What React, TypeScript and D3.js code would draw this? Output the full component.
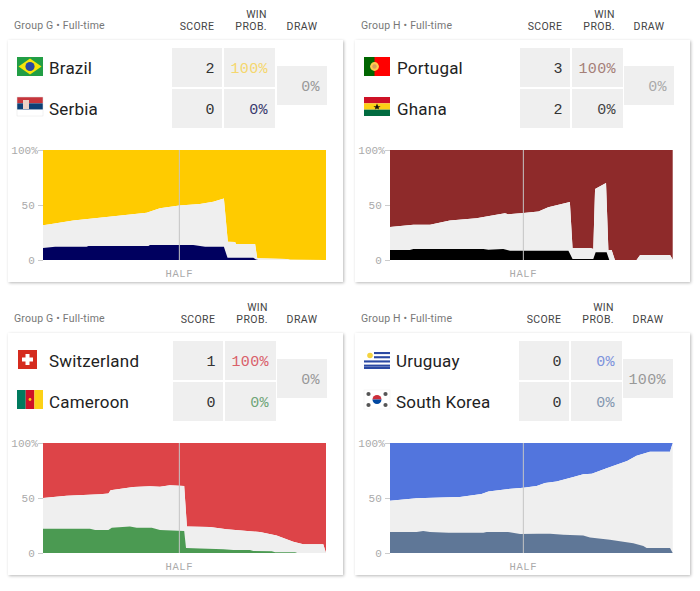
import * as d3 from "d3";
import React, { useEffect, useRef } from "react";

const MONO = "'Liberation Mono', 'DejaVu Sans Mono', monospace";
const SANS = "Roboto, Inter, sans-serif";

// win probability: minute / percent
const brazilMinutes = [0, 2.3, 10, 21, 34.2, 38.6, 45, 51.8, 56.2, 59.7, 61, 63.4, 63.7, 70, 70.7, 80.4, 81.5, 93.4];
const brazilLine = [31.5, 32.5, 36, 39, 43, 47, 49.5, 51, 53, 56, 16.7, 16.4, 14.5, 14.5, 1.5, 1, 0.3, 0];
const serbiaMinutes = [0, 4, 14.4, 15, 34.8, 35.3, 49.6, 53.5, 59.7, 60.9, 69.4, 70.3, 71, 93.4];
const serbiaLine = [11, 12, 12, 12.7, 12.7, 13.6, 13.6, 12, 12, 2, 2, 0.5, 0, 0];

const portugalMinutes = [0, 7.9, 13.5, 20.2, 29.2, 34.9, 38.8, 39.9, 45, 50.1, 53.4, 60.7, 61.6, 67.7, 68.6, 69.2, 72.9, 73.7, 74.8, 75.9, 83.2, 84.4, 94.5, 95.4];
const portugalLine = [30, 32, 32, 36, 38, 40.6, 42.4, 41.5, 42.7, 44, 48, 52.7, 11, 11, 10, 64.5, 70, 9, 9, 0, 0, 4.5, 4.5, 0.5];
const ghanaMinutes = [0, 6.7, 7.9, 31.5, 33.2, 38.2, 40.5, 60.2, 61.6, 68.6, 69.4, 73.1, 74, 95.5];
const ghanaLine = [9, 9, 10, 10, 9.4, 10, 8.5, 8.5, 1, 1, 7, 7, 0, 0];

const swissMinutes = [0, 7.8, 18.8, 21.6, 22.3, 29.8, 35.3, 38.6, 41.9, 46.6, 47.5, 55.1, 60.6, 71.6, 77.1, 82.6, 85.9, 92.5, 93.4];
const swissLine = [50, 52, 53.5, 54, 57, 60, 60.6, 60.3, 61.5, 61, 24, 23.6, 21.5, 19, 16, 10.3, 8, 8, 0];
const cameroonMinutes = [0, 15.5, 17.2, 21.6, 22.7, 28.7, 30.9, 35.9, 38.6, 46.6, 47.2, 51.8, 59.5, 62.8, 68.3, 69.4, 75.5, 76.6, 83.2, 83.9, 93.4];
const cameroonLine = [22, 22, 21, 21, 23, 24, 23, 23, 21, 20, 4.5, 4, 3.3, 2.7, 2.7, 1.8, 1.5, 0.6, 0.6, 0, 0];

const uruguayMinutes = [0, 9, 20.2, 23.6, 30.9, 33.2, 39.4, 45, 49.5, 52.3, 56.2, 61.9, 65.2, 68.1, 73.1, 80, 83.2, 87.7, 89.4, 94.5, 95.4];
const uruguayLine = [47.6, 49.7, 50.6, 51, 53.6, 56, 58, 59.4, 61, 63.6, 65, 69, 71.5, 72, 77, 83.6, 88.5, 92, 92, 92, 100];
const koreaMinutes = [0, 9, 11.2, 13.5, 19.7, 31.5, 32.6, 39.9, 43.9, 50.1, 54, 58.5, 65.2, 67.5, 74.2, 82.1, 85.5, 86.6, 94.5, 95.4];
const koreaLine = [19, 19, 20, 19, 18.5, 18.5, 19, 19, 17.3, 17.6, 17.6, 16.7, 16, 14, 12, 8.8, 6.4, 4.5, 4.5, 0];

const yTicks = [0, 50, 100];

const Flag = ({ name, x, y }: { name: string; x: number; y: number }) => {
  const w = 26;
  const h = 19;
  const bands = (colors: string[]) =>
    colors.map((c, i) => <rect key={i} x={0} y={(i * h) / colors.length} width={w} height={h / colors.length} fill={c} />);
  let inner: React.ReactNode = null;
  if (name === "Brazil") {
    inner = (
      <>
        <rect width={w} height={h} fill="#229e45" />
        <polygon points="1.5,9.5 13,1.5 24.5,9.5 13,17.5" fill="#f8e509" />
        <circle cx={13} cy={9.5} r={4.6} fill="#2b49a3" />
      </>
    );
  } else if (name === "Serbia") {
    inner = (
      <>
        {bands(["#c6363c", "#0c4076", "#ffffff"])}
        <rect x={6} y={3} width={6} height={9} fill="#ead2c6" />
        <rect width={w} height={h} fill="none" stroke="#e4e4e4" strokeWidth={0.5} />
      </>
    );
  } else if (name === "Portugal") {
    inner = (
      <>
        <rect width={w} height={h} fill="#ff0000" />
        <rect width={10.5} height={h} fill="#006600" />
        <circle cx={10.5} cy={9.5} r={4.4} fill="#ffcc4d" />
        <circle cx={10.5} cy={9.5} r={2.2} fill="#d9a05b" />
      </>
    );
  } else if (name === "Ghana") {
    inner = (
      <>
        {bands(["#ce1126", "#fcd116", "#006b3f"])}
        <polygon points="13,6.4 14.1,9.2 16.6,9.2 14.4,10.8 15.2,12.6 13,11.4 10.8,12.6 11.6,10.8 9.4,9.2 11.9,9.2" fill="#111" />
      </>
    );
  } else if (name === "Switzerland") {
    inner = (
      <>
        <rect x={1} width={19} height={h} fill="#d52b1e" />
        <rect x={8.5} y={4} width={4} height={11} fill="#fff" />
        <rect x={5} y={7.5} width={11} height={4} fill="#fff" />
      </>
    );
  } else if (name === "Cameroon") {
    inner = (
      <>
        <rect width={8.7} height={h} fill="#007a5e" />
        <rect x={8.7} width={8.7} height={h} fill="#ce1126" />
        <rect x={17.4} width={8.6} height={h} fill="#fcd116" />
        <circle cx={13} cy={9.5} r={1.4} fill="#fcd116" />
      </>
    );
  } else if (name === "Uruguay") {
    inner = (
      <>
        <rect width={w} height={h} fill="#fff" />
        {[2, 6.2, 10.4, 14.6].map((by) => (
          <rect key={by} x={by < 10 ? 10 : 0} y={by} width={by < 10 ? 16 : 26} height={2.1} fill="#2b49a3" />
        ))}
        <rect y={16.9} width={w} height={2.1} fill="#2b49a3" />
        <circle cx={6} cy={5.5} r={2.8} fill="#f4d33f" />
      </>
    );
  } else {
    inner = (
      <>
        <rect width={w} height={h} fill="#fff" stroke="#eee" strokeWidth={0.5} />
        <path d="M8.5,9.5 A4.5,4.5 0 0 1 17.5,9.5 Z" fill="#cd2e3a" />
        <path d="M8.5,9.5 A4.5,4.5 0 0 0 17.5,9.5 Z" fill="#0047a0" />
        {[[4.5, 4], [21.5, 4], [4.5, 15], [21.5, 15]].map(([cx, cy]) => (
          <circle key={`${cx}-${cy}`} cx={cx} cy={cy} r={2.1} fill="#555" />
        ))}
      </>
    );
  }
  return <g transform={`translate(${x},${y})`}>{inner}</g>;
};

interface GameProps {
  top: number;
  group: string;
  teams: [string, string];
  nameX: number;
  flagX: [number, number];
  cellX: [number, number, number];
  scores: [number, number];
  probs: [string, string];
  draw: string;
  probColors: [string, string];
  drawColor: string;
  colors: [string, string];
  duration: number;
  lineMinutes: number[];
  line: number[];
  lowMinutes: number[];
  low: number[];
  chartX: number;
  headX: number;
  cardX: number;
}

const Game: React.FC<GameProps> = (p) => {
  const chartRef = useRef<SVGGElement>(null);
  const chartW = 283;
  const chartH = 110;

  useEffect(() => {
    const g = d3.select(chartRef.current);
    g.selectAll("*").remove();

    const x = d3.scaleLinear().domain([0, p.duration]).range([0, chartW]);
    const y = d3.scaleLinear().domain([0, 100]).range([chartH, 0]);

    const pairs = p.lineMinutes.map((m, i) => [m, p.line[i]]);
    const lowPairs = p.lowMinutes.map((m, i) => [m, p.low[i]]);

    const area = (base: number) =>
      d3
        .area<number[]>()
        .x((d) => x(d[0]))
        .y0(y(base))
        .y1((d) => y(d[1]));

    g.append("path").datum(pairs).attr("d", area(100)).attr("fill", p.colors[0]);
    g.append("path").datum(pairs).attr("d", area(0)).attr("fill", "#efefef");
    g.append("path").datum(lowPairs).attr("d", area(0)).attr("fill", p.colors[1]);

    g.append("line")
      .attr("x1", x(45))
      .attr("x2", x(45))
      .attr("y1", 0)
      .attr("y2", chartH)
      .attr("stroke", "#c4c4c4")
      .attr("stroke-width", 1);

    const axis = g.append("g").call(
      d3
        .axisLeft(y)
        .tickValues(yTicks)
        .tickSize(5)
        .tickPadding(0)
        .tickFormat((d) => (d === 100 ? "100%" : String(d))),
    );
    axis.select(".domain").remove();
    axis.selectAll("line").attr("stroke", "#ccc");
    axis
      .selectAll("text")
      .attr("fill", "#aaa")
      .attr("font-family", MONO)
      .attr("font-size", 11)
      .attr("letter-spacing", 0.1);
    // the 0 and 50 labels sit a little clear of their tick, 100% runs into it
    axis
      .selectAll("text")
      .filter((d) => d !== 100)
      .attr("dx", -3);

    g.append("text")
      .attr("x", x(45))
      .attr("y", chartH + 17)
      .attr("text-anchor", "middle")
      .attr("fill", "#aaa")
      .attr("font-family", MONO)
      .attr("font-size", 10.5)
      .attr("letter-spacing", 0.6)
      .text("HALF");
  }, [p]);

  const hdr = { fontFamily: SANS, fontSize: 10.5, fill: "#444", letterSpacing: 0.4 };
  const num = { fontFamily: MONO, fontSize: 15, textAnchor: "end" as const, letterSpacing: 0.4 };
  const [sx, wx, dx] = p.cellX;

  return (
    <g transform={`translate(0,${p.top})`}>
      <text x={p.headX} y={29} fontFamily={SANS} fontSize={10.5} fill="#777" letterSpacing={0.2}>
        {p.group}
      </text>
      <text x={sx + 25} y={30} textAnchor="middle" {...hdr}>SCORE</text>
      <text x={wx + 43} y={18} textAnchor="end" {...hdr}>WIN</text>
      <text x={wx + 43} y={30} textAnchor="end" {...hdr}>PROB.</text>
      <text x={dx + 25} y={30} textAnchor="middle" {...hdr}>DRAW</text>

      <rect x={p.cardX} y={40} width={335} height={242} fill="#fff" filter="url(#cardShadow)" />

      {p.teams.map((t, i) => (
        <g key={t}>
          <Flag name={t} x={p.flagX[i]} y={57 + i * 40} />
          <text x={p.nameX} y={74 + i * 41} fontFamily={SANS} fontSize={17} fill="#222" letterSpacing={0.2}>
            {t}
          </text>
          <rect x={sx} y={48 + i * 41} width={50} height={39} fill="#efefef" />
          <rect x={wx} y={48 + i * 41} width={51} height={39} fill="#efefef" />
          <text x={sx + 43} y={73 + i * 41} {...num} fill="#333">
            {p.scores[i]}
          </text>
          <text x={wx + 44} y={73 + i * 41} {...num} fill={p.probColors[i]}>
            {p.probs[i]}
          </text>
        </g>
      ))}
      <rect x={dx} y={66} width={50} height={39} fill="#efefef" />
      <text x={dx + 43} y={91} {...num} fill={p.drawColor}>
        {p.draw}
      </text>

      <g ref={chartRef} transform={`translate(${p.chartX},150)`} />
    </g>
  );
};

export default function App() {
  return (
    <svg width={700} height={591} style={{ position: "absolute", left: 0, top: 0 }}>
      <defs>
        <filter id="cardShadow" x="-5%" y="-5%" width="110%" height="110%">
          <feDropShadow dx={1} dy={1} stdDeviation={1.8} floodColor="#000" floodOpacity={0.28} />
        </filter>
      </defs>
      <Game
        top={0} group="Group G • Full-time" teams={["Brazil", "Serbia"]}
        cardX={8} chartX={43} headX={14} nameX={49} flagX={[17, 17]} cellX={[172, 224, 277]}
        scores={[2, 0]} probs={["100%", "0%"]} draw="0%"
        probColors={["#f5d76e", "#3a3a6e"]} drawColor="#999"
        colors={["#ffcb00", "#00005f"]} duration={93.4}
        lineMinutes={brazilMinutes} line={brazilLine} lowMinutes={serbiaMinutes} low={serbiaLine}
      />
      <Game
        top={0} group="Group H • Full-time" teams={["Portugal", "Ghana"]}
        cardX={355} chartX={390} headX={361} nameX={397} flagX={[364, 364]} cellX={[520, 572, 624]}
        scores={[3, 2]} probs={["100%", "0%"]} draw="0%"
        probColors={["#a58078", "#444"]} drawColor="#aaa"
        colors={["#8e2a2a", "#000000"]} duration={95.5}
        lineMinutes={portugalMinutes} line={portugalLine} lowMinutes={ghanaMinutes} low={ghanaLine}
      />
      <Game
        top={293} group="Group G • Full-time" teams={["Switzerland", "Cameroon"]}
        cardX={8} chartX={43} headX={14} nameX={49} flagX={[17, 17]} cellX={[173, 225, 277]}
        scores={[1, 0]} probs={["100%", "0%"]} draw="0%"
        probColors={["#d9606a", "#70a578"]} drawColor="#999"
        colors={["#dd4448", "#4b9a52"]} duration={93.4}
        lineMinutes={swissMinutes} line={swissLine} lowMinutes={cameroonMinutes} low={cameroonLine}
      />
      <Game
        top={293} group="Group H • Full-time" teams={["Uruguay", "South Korea"]}
        cardX={355} chartX={390} headX={361} nameX={396} flagX={[364, 364]} cellX={[519, 571, 623]}
        scores={[0, 0]} probs={["0%", "0%"]} draw="100%"
        probColors={["#7d93dc", "#8497b0"]} drawColor="#999"
        colors={["#5275dd", "#5f7797"]} duration={95.5}
        lineMinutes={uruguayMinutes} line={uruguayLine} lowMinutes={koreaMinutes} low={koreaLine}
      />
    </svg>
  );
}
